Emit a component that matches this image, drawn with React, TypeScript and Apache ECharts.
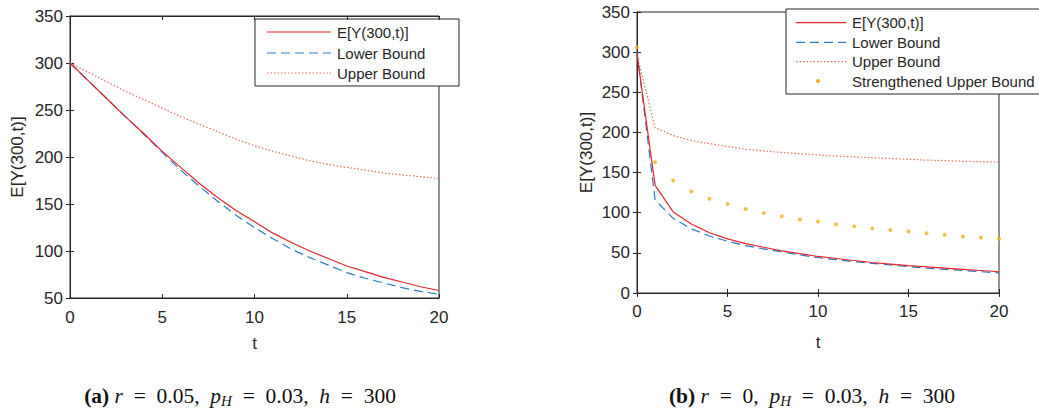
import React, { useEffect, useRef } from "react";
import * as echarts from "echarts";

// ---- data ----
const T = [0, 1, 2, 3, 4, 5, 6, 7, 8, 9, 10, 11, 12, 13, 14, 15, 16, 17, 18, 19, 20];

// (a) r = 0.05
const aExpected = [300, 281, 262, 243, 225, 206, 189, 172, 157, 143, 131, 119, 109, 100, 92, 84, 78, 72, 67, 62, 58];
const aLower = [300, 281, 262, 243, 224, 205, 186, 169, 153, 138, 125, 113, 102, 93, 85, 77, 71, 66, 61, 57, 54];
const aUpper = [300, 290, 280, 270, 261, 252, 243, 235, 227, 219, 212, 206, 201, 196, 192, 189, 186, 183, 181, 179, 177];

// (b) r = 0
const bExpected = [298, 134, 101, 86, 75, 67.5, 61.5, 57, 52.5, 49, 45.5, 43, 40.5, 38, 36, 34, 32.5, 31, 29.5, 28, 26.5];
const bLower = [300, 116, 93, 80, 71, 64.5, 59, 55, 51, 47.5, 44, 41.5, 39, 37, 35, 33, 31, 29.5, 28, 26.5, 25];
const bUpper = [296, 206, 196, 190, 186, 182.5, 179, 177, 175, 173.5, 172, 170.5, 169.5, 168.5, 167.5, 166.5, 165.5, 165, 164, 163.5, 163];
const bStrengthened = [306, 163, 140, 126.5, 117.5, 111, 104.5, 99.5, 95.5, 91.5, 89, 85.5, 83, 80.5, 78.5, 76.5, 74.5, 72.5, 70.5, 69, 67.5];

const legendA = ["E[Y(300,t)]", "Lower Bound", "Upper Bound"];
const legendB = ["E[Y(300,t)]", "Lower Bound", "Upper Bound", "Strengthened Upper Bound"];
const yName = "E[Y(300,t)]";
const xName = "t";

const pairs = (vals: number[]) => T.map((t, i) => [t, vals[i]]);

const RED = "#e3262e";
const BLUE = "#2a7cc0";
const ORANGE = "#e2704f";
const YELLOW = "#edb120";
const AX = "#262626";
const FONT = "Liberation Sans, Arial, sans-serif";
const SERIF = "Liberation Serif, serif";

export default function App() {
  const ref = useRef<HTMLDivElement>(null);
  useEffect(() => {
    document.body.style.margin = "0";
    const chart = echarts.init(ref.current!, undefined, { renderer: "svg" });

    const axisCommon = {
      axisLine: { show: true, lineStyle: { color: AX, width: 1 } },
      axisTick: { show: true, inside: true, length: 4, lineStyle: { color: AX } },
      splitLine: { show: false },
    };
    const label = (margin: number) => ({
      color: AX,
      fontSize: 17,
      fontFamily: FONT,
      margin,
    });

    const xAxisFor = (gridIndex: number, position: "bottom" | "top", margin: number, nameGap: number) => ({
      type: "value",
      gridIndex,
      position,
      min: 0,
      max: 20,
      interval: 5,
      ...axisCommon,
      axisLabel: position === "bottom" ? label(margin) : { show: false },
      name: position === "bottom" ? xName : "",
      nameLocation: "middle",
      nameGap,
      nameTextStyle: { color: AX, fontSize: 17, fontFamily: FONT },
    });
    const yAxisFor = (gridIndex: number, position: "left" | "right", min: number, nameGap: number) => ({
      type: "value",
      gridIndex,
      position,
      min,
      max: 350,
      interval: 50,
      ...axisCommon,
      axisLabel: position === "left" ? label(7) : { show: false },
      name: position === "left" ? yName : "",
      nameLocation: "middle",
      nameGap,
      nameTextStyle: { color: AX, fontSize: 17, fontFamily: FONT },
    });

    const lineSeries = (name: string, data: number[], color: string, type: any, xi: number, yi: number) => ({
      name,
      type: "line",
      xAxisIndex: xi,
      yAxisIndex: yi,
      data: pairs(data),
      showSymbol: false,
      symbol: "none",
      lineStyle: { color, width: 1.2, type },
      itemStyle: { color },
    });

    const CAP = 21.5;
    const SP = "\u2002";
    const caption = (cx: number, letter: string, rVal: string) => ({
      type: "text",
      x: cx,
      y: 396,
      style: {
        text: `{b|(${letter})} {i|r}${SP}=${SP}${rVal},${SP}{i|p}{s|H}${SP}=${SP}0.03,${SP}{i|h}${SP}=${SP}300`,
        fontFamily: SERIF,
        fontSize: CAP,
        fill: "#111",
        align: "center",
        verticalAlign: "middle",
        rich: {
          b: { fontWeight: "bold", fontFamily: SERIF, fontSize: CAP },
          i: { fontStyle: "italic", fontFamily: SERIF, fontSize: CAP },
          s: { fontStyle: "italic", fontFamily: SERIF, fontSize: 15, padding: [10, 0, 0, 0] },
        },
      },
    });

    const legendText = (x: number, y: number, text: string) => ({
      type: "text",
      x,
      y,
      style: { text, fontSize: 15, fontFamily: FONT, fill: AX, verticalAlign: "middle" },
    });
    const legendLine = (x1: number, x2: number, y: number, stroke: string, dash: any) => ({
      type: "line",
      shape: { x1, y1: y, x2, y2: y },
      style: { stroke, lineWidth: 1.2, lineDash: dash },
    });

    chart.setOption({
      animation: false,
      backgroundColor: "#fff",
      grid: [
        { left: 70, top: 16, width: 369, height: 282, show: true, borderColor: AX, borderWidth: 1, backgroundColor: "#fff" },
        { left: 637, top: 12, width: 362, height: 281, show: true, borderColor: AX, borderWidth: 1, backgroundColor: "#fff" },
      ],
      xAxis: [
        xAxisFor(0, "bottom", 10.5, 37),
        xAxisFor(0, "top", 0, 0),
        xAxisFor(1, "bottom", 10, 41),
        xAxisFor(1, "top", 0, 0),
      ],
      yAxis: [
        yAxisFor(0, "left", 50, 44),
        yAxisFor(0, "right", 50, 0),
        yAxisFor(1, "left", 0, 42),
        yAxisFor(1, "right", 0, 0),
      ],
      series: [
        lineSeries(legendA[2], aUpper, ORANGE, [1.5, 2], 0, 0),
        lineSeries(legendA[1], aLower, BLUE, [9, 5], 0, 0),
        lineSeries(legendA[0], aExpected, RED, "solid", 0, 0),
        lineSeries(legendB[2], bUpper, ORANGE, [1.5, 2], 2, 2),
        lineSeries(legendB[1], bLower, BLUE, [9, 5], 2, 2),
        lineSeries(legendB[0], bExpected, RED, "solid", 2, 2),
        {
          name: legendB[3],
          type: "scatter",
          xAxisIndex: 2,
          yAxisIndex: 2,
          data: pairs(bStrengthened),
          symbol: "circle",
          symbolSize: 4,
          itemStyle: { color: YELLOW },
        },
      ],
      graphic: [
        // legend (a)
        { type: "rect", shape: { x: 255, y: 19, width: 204, height: 67 }, style: { fill: "#fff", stroke: AX, lineWidth: 1 } },
        legendLine(267, 331, 32, RED, null),
        legendLine(267, 331, 53, BLUE, [9, 5]),
        legendLine(267, 331, 73, ORANGE, [1.5, 2]),
        legendText(337, 32, legendA[0]),
        legendText(337, 53, legendA[1]),
        legendText(337, 73, legendA[2]),
        // legend (b)
        { type: "rect", shape: { x: 786, y: 9, width: 262, height: 85 }, style: { fill: "#fff", stroke: AX, lineWidth: 1 } },
        legendLine(796, 846, 22.7, RED, null),
        legendLine(796, 846, 42.3, BLUE, [9, 5]),
        legendLine(796, 846, 61.7, ORANGE, [1.5, 2]),
        { type: "circle", shape: { cx: 818, cy: 81, r: 2 }, style: { fill: YELLOW } },
        legendText(852, 22.7, legendB[0]),
        legendText(852, 42.3, legendB[1]),
        legendText(852, 61.7, legendB[2]),
        legendText(852, 81, legendB[3]),
        // captions
        caption(240, "a", "0.05"),
        caption(812, "b", "0"),
      ],
    });
    return () => chart.dispose();
  }, []);
  return <div ref={ref} style={{ width: 1039, height: 408 }} />;
}
